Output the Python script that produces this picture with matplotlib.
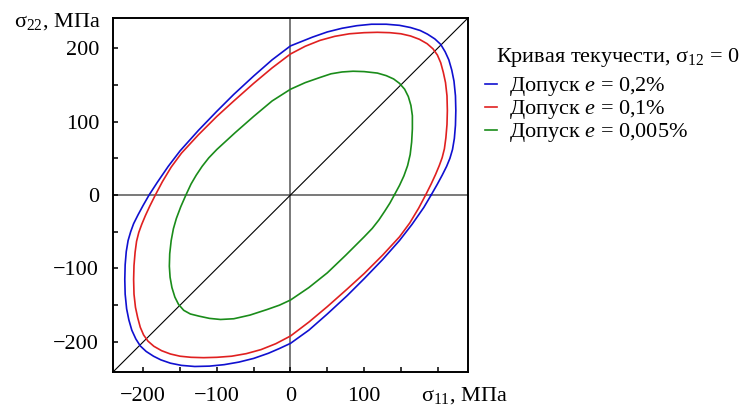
import matplotlib
matplotlib.use('Agg')
import matplotlib.pyplot as plt
from matplotlib.ticker import MultipleLocator

plt.rcParams['font.family'] = ['Liberation Serif', 'DejaVu Serif']
plt.rcParams['mathtext.fontset'] = 'custom'
plt.rcParams['mathtext.rm'] = 'Liberation Serif'
plt.rcParams['mathtext.it'] = 'Liberation Serif:italic'

# yield curves, (sigma11, sigma22) in MPa
x_02 = [191, 199, 206, 212, 216.5, 220, 222.5, 224, 224.5, 224,
        222, 219, 215, 210, 204, 196, 186, 176, 163, 148,
        130, 110, 90, 70, 50, 30, 15, 0, -25, -50,
        -77, -100, -125, -150, -166, -181, -192, -200, -207, -213,
        -217, -220.5, -223, -224.5, -225, -224.5, -222.5, -219.5, -215.5, -210,
        -204, -196, -186, -176, -163, -148, -130, -110, -90, -70,
        -50, -30, -15, 0, 25, 50, 77, 100, 125, 148,
        165, 181, 191]
y_02 = [0, 14, 27, 39, 50, 62, 77, 95, 115, 135,
        155, 170, 184, 195, 205, 212.5, 219, 224, 228, 231,
        232.5, 232.5, 230.5, 227, 222, 215, 209, 203, 184, 162,
        137, 114, 88, 60, 39, 17, 0, -14, -27, -39,
        -50, -62, -77, -95, -115, -135, -155, -170, -184, -196,
        -205.5, -213, -219.5, -224.5, -229, -232, -233.5, -233, -231, -227.5,
        -222.5, -215.5, -209, -202, -184, -162, -137, -114, -88, -62,
        -40, -17, 0]

x_01 = [183.5, 191, 197, 202, 206, 209, 211, 212.5, 213, 212.5,
        210.5, 207.5, 204, 199.5, 193.5, 185.5, 175, 163, 150, 135,
        118, 100, 80, 60, 40, 20, 0, -25, -50, -77,
        -100, -125, -148, -162, -174, -183.5, -191, -197, -202, -206,
        -209, -211, -212.5, -213, -212.5, -210.5, -207.5, -204, -199.5, -193.5,
        -185.5, -175, -163, -150, -135, -118, -100, -80, -60, -40,
        -20, 0, 25, 50, 77, 100, 125, 148, 162, 174,
        183.5]
y_01 = [0, 15, 28, 40, 51, 63, 78, 96, 115, 135,
        153, 167, 180, 190.5, 199, 206, 212, 216.5, 219.5, 221,
        221.5, 221, 219.5, 216, 210.5, 202.5, 192, 173, 152, 128,
        107, 82, 57, 38, 18, 0, -15, -28, -40, -51,
        -63, -78, -96, -115, -135, -153, -167, -180, -190.5, -199,
        -206, -212, -216.5, -219.5, -221, -221.5, -221, -219.5, -216, -210.5,
        -202.5, -192, -173, -152, -128, -107, -82, -57, -38, -18,
        0]

x_0005 = [141, 148, 154, 159, 162.5, 164.5, 165.5, 165.5, 163.5, 160,
          155, 148, 140, 130, 118, 100, 85, 70, 55, 40,
          20, 0, -25, -50, -75, -100, -111, -120, -128, -135,
          -142, -149, -155, -159, -162, -164, -164.5, -163.5, -161, -157,
          -152, -145, -136, -124, -110, -95, -77, -55, -32, -15,
          0, 25, 50, 75, 100, 111, 120, 128, 135, 141]
y_0005 = [0, 13, 26, 40, 55, 72, 90, 108, 122, 134,
          144, 152, 158, 162.5, 166, 168, 168.5, 167.5, 165, 160,
          153, 144, 128, 107, 85, 62, 50.5, 39, 27, 15,
          0, -16, -32, -46, -62, -80, -97, -112, -126, -139,
          -149, -157, -162, -165, -168, -169.5, -168.5, -163.5, -156, -150,
          -143, -126, -106, -82, -57, -45.5, -34, -22, -11, 0]

labels = ['Допуск $e$ = 0,2%', 'Допуск $e$ = 0,1%', 'Допуск $e$ = 0,005%']
colors = ['#1010d0', '#e02020', '#1a8c1a']

x_ticks = [-200, -100, 0, 100, 200]
x_ticklabels = ['\u2212200', '\u2212100', '0', '100', '']

fig = plt.figure(figsize=(7.42, 4.07), dpi=100)
ax = fig.add_axes([0.1523, 0.086, 0.4784, 0.8698])

lim = 241
ax.axhline(0, color='#555555', lw=1.1, zorder=1)
ax.axvline(0, color='#555555', lw=1.1, zorder=1)
ax.plot([-lim, lim], [-lim, lim], color='black', lw=0.8, zorder=1)

for xs, ys, c, lab in zip([x_02, x_01, x_0005], [y_02, y_01, y_0005], colors, labels):
    ax.plot(xs, ys, color=c, lw=1.2, label=lab, zorder=2)

ax.set_xlim(-lim, lim)
ax.set_ylim(-lim, lim)
ax.set_xticks(x_ticks)
ax.set_xticklabels(x_ticklabels)
ax.yaxis.set_major_locator(MultipleLocator(100))
ax.xaxis.set_minor_locator(MultipleLocator(50))
ax.yaxis.set_minor_locator(MultipleLocator(50))
ax.tick_params(which='both', direction='in', length=3.6, width=1.1, labelsize=16)
ax.tick_params(axis='x', pad=11)
ax.tick_params(axis='y', pad=10)
for s in ax.spines.values():
    s.set_linewidth(1.4)

fig.text(0.019, 0.934, 'σ$_{22}$, МПа', fontsize=16, va='baseline')
fig.text(0.568, 0.016, 'σ$_{11}$, МПа', fontsize=16, va='baseline')

fig.text(0.669, 0.847, 'Кривая текучести, σ$_{12}$ = 0', fontsize=16, va='baseline')
ax.legend(loc='upper left', bbox_to_anchor=(0.654, 0.815), bbox_transform=fig.transFigure,
          frameon=False, fontsize=16, handlelength=0.55, handletextpad=0.5,
          labelspacing=0.0, borderpad=0, borderaxespad=0)

fig.savefig('out.png', dpi=100)
